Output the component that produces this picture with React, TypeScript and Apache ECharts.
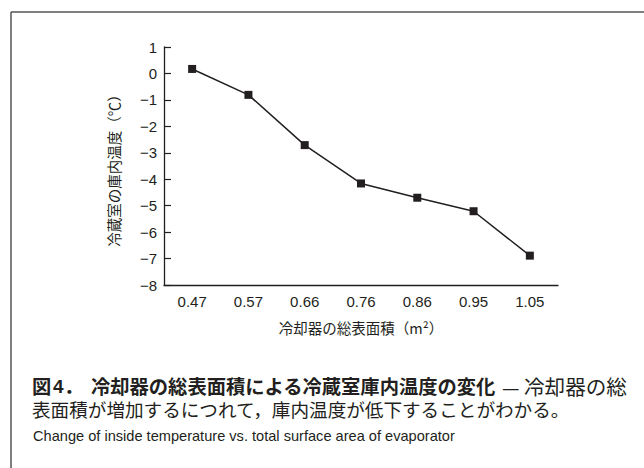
import React, { useEffect, useRef } from "react";
import * as echarts from "echarts";

const categories = ["0.47", "0.57", "0.66", "0.76", "0.86", "0.95", "1.05"];
const temperatures = [0.17, -0.81, -2.71, -4.16, -4.7, -5.21, -6.89];
const yMin = -8;
const yMax = 1;
const yInterval = 1;
const yAxisName = "冷蔵室の庫内温度（℃）";
const xAxisName = "冷却器の総表面積（m²）";
const captionFigNo = "図";
const captionNum = "4";
const captionDot = "．";
const captionBold = "冷却器の総表面積による冷蔵室庫内温度の変化";
const captionDash = "—";
const captionTail = "冷却器の総";
const captionLine2 = "表面積が増加するにつれて，庫内温度が低下することがわかる。";
const captionEnglish = "Change of inside temperature vs. total surface area of evaporator";

const INK = "#231f20";
const CJK = "'Noto Sans CJK JP', sans-serif";
const SANS = "'Liberation Sans', Arial, 'Noto Sans CJK JP', sans-serif";

export default function App() {
  const ref = useRef<HTMLDivElement>(null);
  useEffect(() => {
    if (!ref.current) return;
    const chart = echarts.init(ref.current, null, { renderer: "svg" });
    chart.setOption({
      animation: false,
      backgroundColor: "#ffffff",
      grid: { left: 164, right: 86, top: 47, bottom: 183, containLabel: false },
      xAxis: {
        type: "category",
        data: categories,
        boundaryGap: true,
        name: xAxisName,
        nameLocation: "middle",
        nameGap: 35,
        nameTextStyle: { fontSize: 14.5, fontFamily: CJK, color: INK },
        axisLine: { onZero: false, lineStyle: { color: INK, width: 1.3 } },
        axisTick: { alignWithLabel: true, inside: true, length: 6, lineStyle: { color: INK, width: 1.2 } },
        axisLabel: { fontSize: 15, fontFamily: SANS, color: INK, margin: 9 },
        splitLine: { show: false },
      },
      yAxis: {
        type: "value",
        min: yMin,
        max: yMax,
        interval: yInterval,
        axisLine: { show: true, onZero: false, lineStyle: { color: INK, width: 1.3 } },
        axisTick: { show: true, inside: true, length: 7, lineStyle: { color: INK, width: 1.2 } },
        axisLabel: {
          fontSize: 15,
          fontFamily: SANS,
          color: INK,
          margin: 7,
          formatter: (v: number) => String(v).replace("-", "\u2212"),
        },
        splitLine: { show: false },
      },
      series: [
        {
          type: "line",
          data: temperatures,
          symbol: "rect",
          symbolSize: 8,
          itemStyle: { color: INK },
          lineStyle: { color: INK, width: 1.5 },
        },
      ],
      graphic: [
        {
          type: "line",
          shape: { x1: 11, y1: 12, x2: 644, y2: 12 },
          style: { stroke: "#555555", lineWidth: 1.5 },
        },
        {
          type: "line",
          shape: { x1: 11, y1: 12, x2: 11, y2: 468 },
          style: { stroke: "#555555", lineWidth: 1.5 },
        },
        {
          type: "text",
          x: 113,
          y: 167,
          rotation: Math.PI / 2,
          style: {
            text: yAxisName,
            fontSize: 14.5,
            fontFamily: CJK,
            fill: INK,
            align: "center",
            verticalAlign: "middle",
          },
        },
        {
          type: "text",
          left: 32,
          top: 376,
          style: { text: captionFigNo, fontSize: 19.3, fontWeight: "bold", fontFamily: CJK, fill: INK },
        },
        {
          type: "text",
          left: 53,
          top: 377,
          style: { text: captionNum, fontSize: 19, fontWeight: "bold", fontFamily: SANS, fill: INK },
        },
        {
          type: "text",
          left: 64,
          top: 376,
          style: { text: captionDot, fontSize: 19.3, fontWeight: "bold", fontFamily: CJK, fill: INK },
        },
        {
          type: "text",
          left: 91,
          top: 376,
          style: { text: captionBold, fontSize: 19.3, fontWeight: "bold", fontFamily: CJK, fill: INK },
        },
        {
          type: "text",
          left: 502,
          top: 377,
          style: { text: captionDash, fontSize: 19.5, fontFamily: CJK, fill: INK },
        },
        {
          type: "text",
          left: 524,
          top: 376,
          style: { text: captionTail, fontSize: 20.6, fontFamily: CJK, fill: INK },
        },
        {
          type: "text",
          left: 32,
          top: 399,
          style: { text: captionLine2, fontSize: 18.6, fontFamily: CJK, fill: INK },
        },
        {
          type: "text",
          left: 33,
          top: 429,
          style: { text: captionEnglish, fontSize: 14.6, fontFamily: SANS, fill: INK },
        },
      ],
    });
    return () => chart.dispose();
  }, []);
  return (
    <div
      ref={ref}
      style={{ position: "absolute", left: 0, top: 0, width: 644, height: 468, background: "#fff" }}
    />
  );
}
